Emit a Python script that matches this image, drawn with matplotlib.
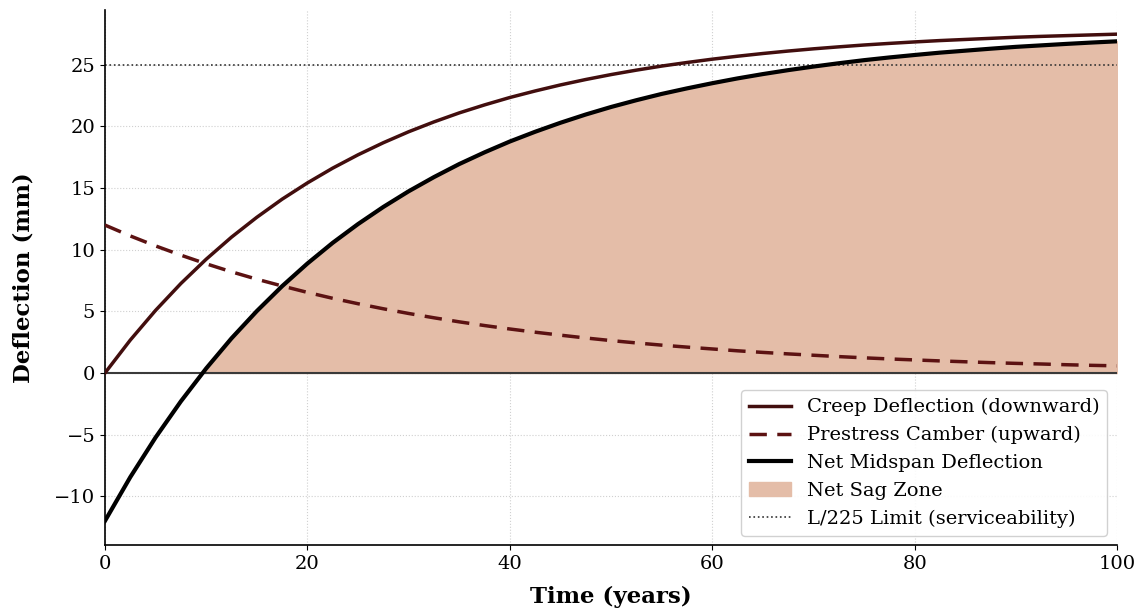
import numpy as np
import matplotlib
matplotlib.use("Agg")
import matplotlib.pyplot as plt

# Values, every 2.5 years (mm)
years = np.arange(0, 100.1, 2.5)
creep = [0.00, 2.67, 5.08, 7.26, 9.23, 11.02, 12.63, 14.10, 15.42, 16.62, 17.70,
         18.68, 19.57, 20.37, 21.10, 21.75, 22.35, 22.88, 23.37, 23.81, 24.21,
         24.57, 24.90, 25.19, 25.46, 25.70, 25.92, 26.12, 26.30, 26.46, 26.61,
         26.74, 26.86, 26.97, 27.06, 27.15, 27.24, 27.31, 27.37, 27.43, 27.49]
camber = [12.00, 11.12, 10.31, 9.56, 8.86, 8.21, 7.61, 7.06, 6.54, 6.06, 5.62,
          5.21, 4.83, 4.48, 4.15, 3.85, 3.57, 3.31, 3.07, 2.84, 2.63,
          2.44, 2.26, 2.10, 1.95, 1.80, 1.67, 1.55, 1.44, 1.33, 1.23,
          1.14, 1.06, 0.98, 0.91, 0.84, 0.78, 0.73, 0.67, 0.62, 0.58]
net = [-12.00, -8.45, -5.23, -2.30, 0.37, 2.81, 5.02, 7.04, 8.88, 10.56, 12.08,
       13.47, 14.74, 15.89, 16.95, 17.90, 18.78, 19.57, 20.30, 20.97, 21.58,
       22.13, 22.64, 23.09, 23.51, 23.90, 24.25, 24.57, 24.86, 25.13, 25.38,
       25.60, 25.80, 25.99, 26.15, 26.31, 26.46, 26.58, 26.70, 26.81, 26.91]
limit = 25.0

plt.rcParams['font.family'] = 'DejaVu Serif'

fig, ax = plt.subplots(figsize=(11.41, 6.14), dpi=100)

net_arr = np.array(net)

ax.fill_between(years, net_arr, 0, where=net_arr >= 0, interpolate=True,
                color='#e4bda8', label='Net Sag Zone', zorder=1)
ax.axhline(0, color='#3a3a3a', lw=1.5, zorder=2)
ax.plot(years, creep, color='#420e0e', lw=2.5, label='Creep Deflection (downward)', zorder=3)
ax.plot(years, camber, color='#5c1212', lw=2.5, ls='--', dashes=(5, 3),
        label='Prestress Camber (upward)', zorder=3)
ax.plot(years, net_arr, color='black', lw=3, label='Net Midspan Deflection', zorder=4)
ax.axhline(limit, color='#333333', lw=1.2, ls=':', label='L/225 Limit (serviceability)', zorder=2)

ax.set_xlim(0, 100)
ax.set_xlabel('Time (years)', fontsize=16.5, fontweight='bold', labelpad=9)
ax.set_ylabel('Deflection (mm)', fontsize=16.5, fontweight='bold', labelpad=14)
ax.tick_params(labelsize=14)
ax.grid(True, ls=':', color='#d0d0d0', lw=0.8)
ax.set_axisbelow(True)
for s in ['top', 'right']:
    ax.spines[s].set_visible(False)
for s in ['left', 'bottom']:
    ax.spines[s].set_linewidth(1.2)

# legend order as in the reference
h, l = ax.get_legend_handles_labels()
order = ['Creep Deflection (downward)', 'Prestress Camber (upward)',
         'Net Midspan Deflection', 'Net Sag Zone', 'L/225 Limit (serviceability)']
hl = dict(zip(l, h))
ax.legend([hl[k] for k in order], order, loc='lower right', fontsize=14,
          framealpha=0.9, labelspacing=0.5, handlelength=2.2)

fig.subplots_adjust(left=0.092, right=0.979, top=0.984, bottom=0.112)
fig.savefig('out.png', dpi=100)
